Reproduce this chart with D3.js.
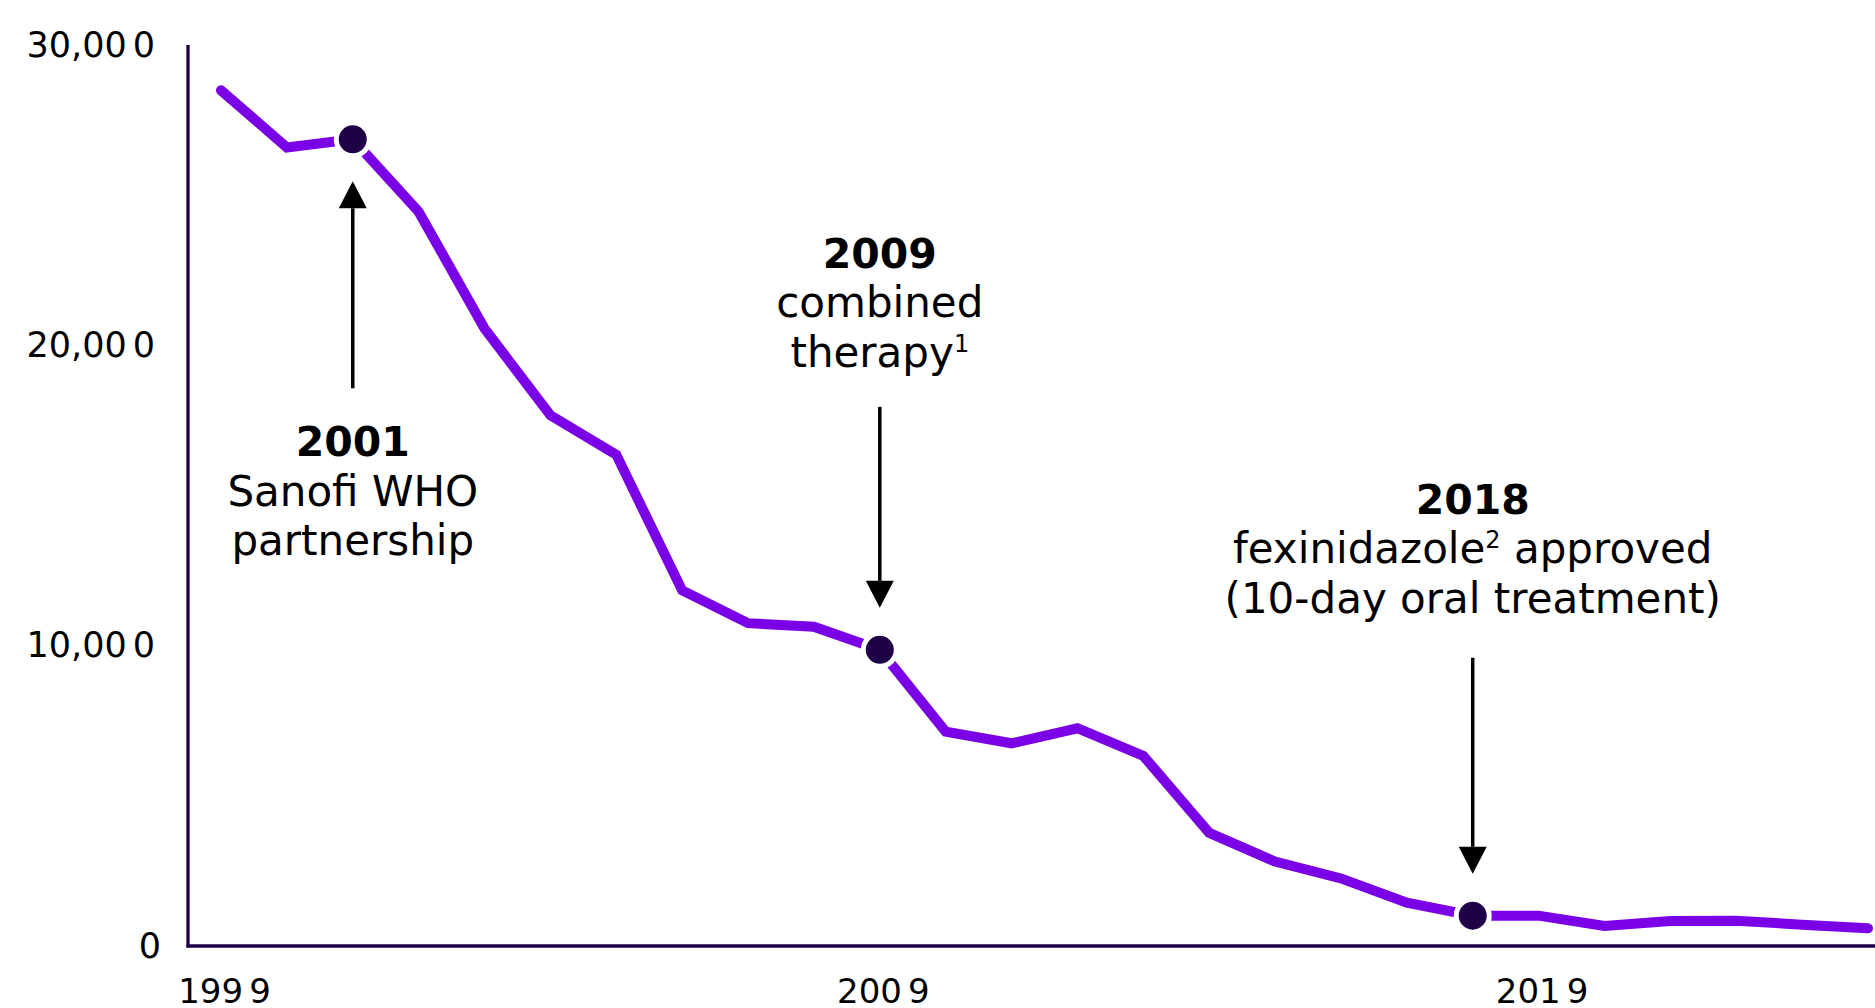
<!DOCTYPE html>
<html>
<head>
<meta charset="utf-8">
<script src="https://cdn.jsdelivr.net/npm/d3@7"></script>
<style>
  body { margin: 0; background: #ffffff; }
  svg { display: block; }
</style>
</head>
<body>
<div id="chart"></div>
<script>
// cases per year
var years = [1999, 2000, 2001, 2002, 2003, 2004, 2005, 2006, 2007, 2008,
             2009, 2010, 2011, 2012, 2013, 2014, 2015, 2016, 2017, 2018,
             2019, 2020, 2021, 2022, 2023, 2024];
var cases = [28490, 26590, 26860, 24450, 20560, 17670, 16360, 11840, 10750, 10630,
             9860, 7140, 6750, 7250, 6330, 3770, 2810, 2250, 1440, 1010,
             1010, 670, 830, 840, 710, 590];

var yTicks = [0, 10000, 20000, 30000];
var xTicks = [1999, 2009, 2019];

var milestoneYears = [2001, 2009, 2018];
var milestoneTitles = ["2001", "2009", "2018"];
var milestoneLines = [
    [["Sanofi WHO"], ["partnership"]],
    [["combined"], ["therapy", "1"]],
    [["fexinidazole", "2", " approved"], ["(10-day oral treatment)"]]
];
var milestoneSide = ["below", "above", "above"];
var arrowLength = [207, 201, 216];
var textGap = [68, 40, 45];

var W = 1875, H = 1008;
var axisX = 188, axisBottom = 946;
var purple = "#7a00e6", dark = "#1f0047";
var font = "'DejaVu Sans', Verdana, sans-serif";

var svg = d3.select("#chart")
  .append("svg")
  .attr("width", W)
  .attr("height", H);

var x = d3.scaleLinear().domain([1999, 2024]).range([221, 1868]);
var y = d3.scaleLinear().domain([0, 30000]).range([axisBottom, 45]);

// split the last character off a label, the picture shows a small gap there
function gapLabel(sel) {
    sel.each(function() {
        var t = d3.select(this);
        var s = t.text();
        t.text(null);
        t.append("tspan").text(s.slice(0, -1));
        t.append("tspan").attr("dx", 6).text(s.slice(-1));
    });
}

// y axis
var gy = svg.append("g")
  .attr("transform", "translate(" + axisX + ",0)")
  .call(d3.axisLeft(y).tickValues(yTicks).tickFormat(d3.format(",")).tickSize(0).tickPadding(33));
gy.select(".domain").remove();
gy.selectAll("text")
  .attr("fill", "#000")
  .attr("font-family", font)
  .style("font-size", "35px")
  .call(gapLabel);

// x axis
var gx = svg.append("g")
  .attr("transform", "translate(0," + axisBottom + ")")
  .call(d3.axisBottom(x).tickValues(xTicks).tickFormat(d3.format("d")).tickSize(0));
gx.select(".domain").remove();
gx.selectAll("text")
  .attr("fill", "#000")
  .attr("font-family", font)
  .attr("dy", null)
  .attr("y", 57)
  .attr("dx", 3)
  .style("font-size", "34px")
  .call(gapLabel);

svg.append("line")
  .attr("x1", axisX)
  .attr("x2", axisX)
  .attr("y1", y(30000))
  .attr("y2", axisBottom + 1.5)
  .attr("stroke", dark)
  .attr("stroke-width", 3.3);

svg.append("line")
  .attr("x1", axisX - 1.5)
  .attr("x2", W)
  .attr("y1", axisBottom)
  .attr("y2", axisBottom)
  .attr("stroke", dark)
  .attr("stroke-width", 3.3);

// the series
var line = d3.line()
  .x(function(d, i) { return x(years[i]); })
  .y(function(d) { return y(d); });

svg.append("path")
  .datum(cases)
  .attr("fill", "none")
  .attr("stroke", purple)
  .attr("stroke-width", 10)
  .attr("stroke-linecap", "round")
  .attr("d", line);

// milestone dots
svg.selectAll(".milestone")
  .data(milestoneYears)
  .enter()
  .append("circle")
  .attr("class", "milestone")
  .attr("cx", function(d) { return x(d); })
  .attr("cy", function(d) { return y(cases[years.indexOf(d)]); })
  .attr("r", 16.5)
  .attr("fill", dark)
  .attr("stroke", "#ffffff")
  .attr("stroke-width", 5);

// arrows and notes
milestoneYears.forEach(function(yr, k) {
    var cx = x(yr);
    var cy = y(cases[years.indexOf(yr)]);
    var below = milestoneSide[k] === "below";
    var dir = below ? 1 : -1;
    var tip = cy + dir * 42;
    var end = tip + dir * arrowLength[k];
    var head = tip + dir * 27;

    svg.append("line")
      .attr("x1", cx)
      .attr("x2", cx)
      .attr("y1", head)
      .attr("y2", end)
      .attr("stroke", "#000")
      .attr("stroke-width", 3.5);

    svg.append("path")
      .attr("fill", "#000")
      .attr("d", "M " + cx + " " + tip + " L " + (cx - 14) + " " + head + " L " + (cx + 14) + " " + head + " Z");

    var lh = 49.5;
    var first = below ? end + textGap[k] : end - textGap[k] - 2 * lh;

    svg.append("text")
      .attr("x", cx)
      .attr("y", first)
      .attr("text-anchor", "middle")
      .attr("font-family", font)
      .attr("font-weight", "bold")
      .attr("fill", "#000")
      .style("font-size", "41px")
      .text(milestoneTitles[k]);

    milestoneLines[k].forEach(function(parts, j) {
        var t = svg.append("text")
          .attr("x", cx)
          .attr("y", first + (j + 1) * lh)
          .attr("text-anchor", "middle")
          .attr("font-family", font)
          .attr("fill", "#000")
          .style("font-size", "42px");
        parts.forEach(function(p, n) {
            if (n === 1) {
                t.append("tspan")
                  .attr("dy", -15)
                  .style("font-size", "24px")
                  .text(p);
            } else if (n === 2) {
                t.append("tspan")
                  .attr("dy", 15)
                  .text(p);
            } else {
                t.append("tspan").text(p);
            }
        });
    });
});
</script>
</body>
</html>
